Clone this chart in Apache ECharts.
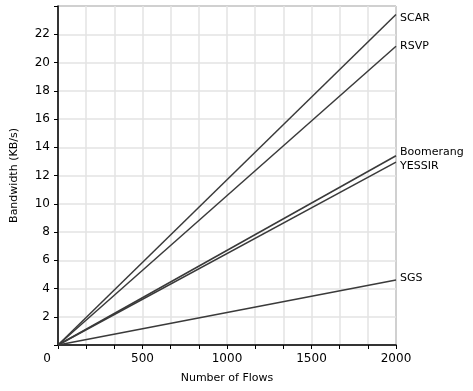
<!DOCTYPE html>
<html>
<head>
<meta charset="utf-8">
<script src="https://cdn.jsdelivr.net/npm/echarts@6/dist/echarts.min.js"></script>
<style>
  html, body { margin: 0; padding: 0; background: #fff; }
  #chart { width: 473px; height: 391px; }
</style>
</head>
<body>
<div id="chart"></div>
<script>
const protocols = ["SCAR", "RSVP", "Boomerang", "YESSIR", "SGS"];
const flows = [0, 2000];
const bandwidth = {
  SCAR: [0, 23.4],
  RSVP: [0, 21.15],
  Boomerang: [0, 13.4],
  YESSIR: [0, 12.95],
  SGS: [0, 4.6],
};
const labelOffsets = {
  SCAR: [-4, 4],
  RSVP: [-4, 0],
  Boomerang: [-4, -4],
  YESSIR: [-4, 4],
  SGS: [-4, -2],
};

const font = "DejaVu Sans";
const chart = echarts.init(document.getElementById("chart"));
chart.setOption({
  animation: false,
  grid: {
    left: 58, right: 77, top: 6, bottom: 46,
    show: true, borderColor: "#333", borderWidth: 1,
  },
  xAxis: {
    type: "value",
    min: 0, max: 2000, interval: 2000 / 12,
    name: "Number of Flows",
    nameLocation: "middle",
    nameGap: 28,
    nameTextStyle: { color: "#000", fontFamily: font, fontSize: 11 },
    axisLine: { lineStyle: { color: "#000", width: 1.5 } },
    axisTick: { show: true, length: 4, lineStyle: { color: "#000" } },
    axisLabel: {
      color: "#000", fontFamily: font, fontSize: 12, margin: 8,
      formatter: function (v) {
        const r = Math.round(v);
        if (r % 500 !== 0) return "";
        return r === 0 ? "{z|0}" : String(r);
      },
      rich: { z: { padding: [0, 22, 0, 0], fontFamily: font, fontSize: 12, color: "#000" } },
    },
    splitLine: { lineStyle: { color: "#e3e3e3", width: 1.5 } },
  },
  yAxis: {
    type: "value",
    min: 0, max: 24, interval: 2,
    name: "Bandwidth (KB/s)",
    nameLocation: "middle",
    nameGap: 38,
    nameTextStyle: { color: "#000", fontFamily: font, fontSize: 11 },
    axisLine: { show: true, lineStyle: { color: "#000", width: 1.5 } },
    axisTick: { show: true, length: 4, lineStyle: { color: "#000" } },
    axisLabel: {
      color: "#000", fontFamily: font, fontSize: 12, margin: 8,
      formatter: function (v) { return (v === 0 || v === 24) ? "" : String(v); },
    },
    splitLine: { lineStyle: { color: "#e3e3e3", width: 1.5 } },
  },
  series: protocols.map(function (p) {
    return {
      name: p,
      type: "line",
      data: flows.map(function (f, i) { return [f, bandwidth[p][i]]; }),
      symbol: "none",
      lineStyle: { color: "#3a3a3a", width: 1.5 },
      endLabel: {
        show: true,
        formatter: p,
        color: "#000",
        fontFamily: font,
        fontSize: 11,
        offset: labelOffsets[p],
      },
    };
  }),
});
</script>
</body>
</html>
